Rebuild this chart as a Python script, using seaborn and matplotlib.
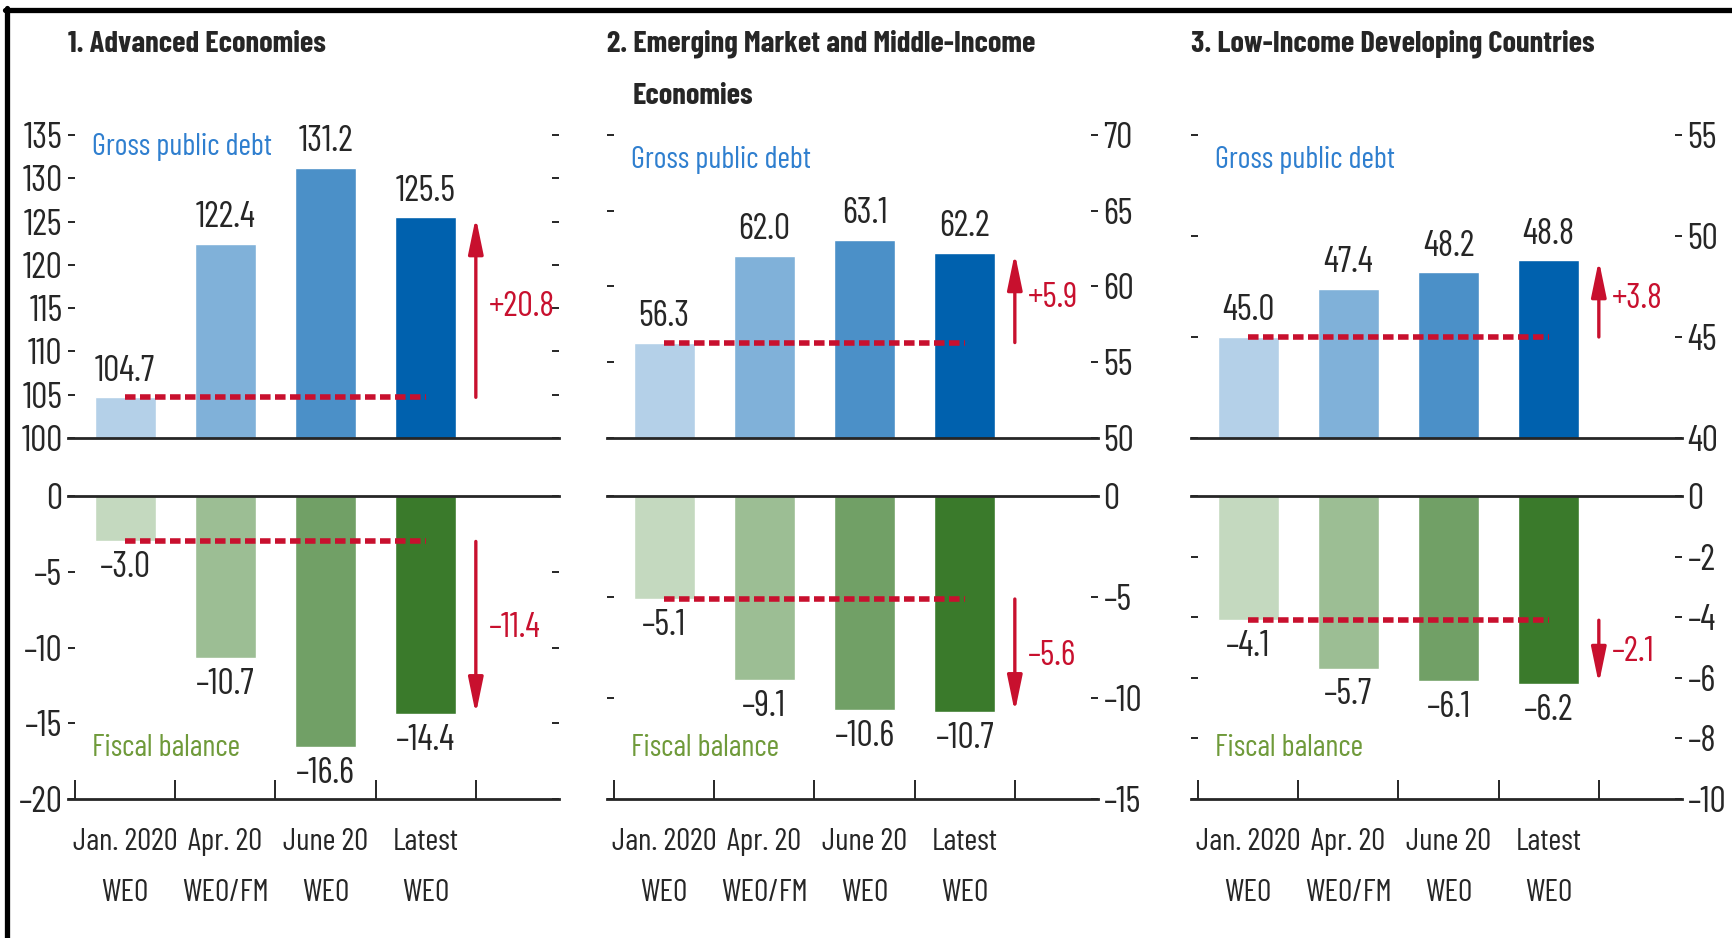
import matplotlib.pyplot as plt
import matplotlib.lines as mlines
import seaborn as sns

# data (percent of GDP)
categories = ["Jan. 2020\nWEO", "Apr. 20\nWEO/FM", "June 20\nWEO", "Latest\nWEO"]
title_lines = [["1. Advanced Economies"],
               ["2. Emerging Market and Middle-Income", "Economies"],
               ["3. Low-Income Developing Countries"]]

debt_adv = [104.7, 122.4, 131.2, 125.5]
debt_em = [56.3, 62.0, 63.1, 62.2]
debt_lic = [45.0, 47.4, 48.2, 48.8]

bal_adv = [-3.0, -10.7, -16.6, -14.4]
bal_em = [-5.1, -9.1, -10.6, -10.7]
bal_lic = [-4.1, -5.7, -6.1, -6.2]

debt_lims = [(100, 135), (50, 70), (40, 55)]
bal_lims = [(-20, 0), (-15, 0), (-10, 0)]
bal_steps = [5, 5, 2]

blues = ["#b4d0e8", "#80b1d9", "#4b90c8", "#0061ae"]
greens = ["#c4d9bf", "#9cbe94", "#71a066", "#3a7a2b"]
RED = "#c8102e"
BLUE_TXT = "#2f7fcf"
GREEN_TXT = "#6f9a3a"

sns.set_style("white")
plt.rcParams['font.family'] = ['Barlow Condensed', 'DejaVu Sans']

W, H = 1733, 938
fig = plt.figure(figsize=(W / 100, H / 100), dpi=100)

lefts = [68, 607, 1191]
ax_w = 491
top_box = (438, 135)     # pixel rows: bottom, top
bot_box = (799, 496)


def dash(s):
    return s.replace("-", "\u2013")


def tick_txt(t):
    return dash(f"{t:g}")


def px_axes(left, box):
    b, t = box
    return [left / W, 1 - b / H, ax_w / W, (b - t) / H]


def change_marks(ax, vals, txt):
    # dashed reference at the first value, arrow to the latest one
    ax.plot([0, 3], [vals[0], vals[0]], color=RED, lw=4.0,
            dashes=(1.9, 0.8), dash_capstyle='butt')
    ax.annotate('', xy=(3.5, vals[-1]), xytext=(3.5, vals[0]),
                arrowprops=dict(arrowstyle='-|>,head_length=1.45,head_width=0.3',
                                color=RED, lw=2.4, shrinkA=0, shrinkB=0,
                                mutation_scale=15))
    ax.text(3.63, (vals[0] + vals[-1]) / 2, txt,
            color=RED, ha='left', va='center', fontsize=25)


debts = [debt_adv, debt_em, debt_lic]
bals = [bal_adv, bal_em, bal_lic]

for i in range(3):
    ax_t = fig.add_axes(px_axes(lefts[i], top_box))
    ax_b = fig.add_axes(px_axes(lefts[i], bot_box))
    debt, bal = debts[i], bals[i]

    sns.barplot(x=categories, y=debt, hue=categories, palette=blues,
                saturation=1, width=0.61, legend=False, ax=ax_t)
    sns.barplot(x=categories, y=bal, hue=categories, palette=greens,
                saturation=1, width=0.61, legend=False, ax=ax_b)

    for ax in (ax_t, ax_b):
        ax.set_xlim(-0.57, 4.33)
        ax.set_xlabel(""); ax.set_ylabel("")
        for s in ("left", "right"):
            ax.spines[s].set_visible(False)
        ax.tick_params(axis='y', which='both', direction='in', length=5,
                       width=1.4, left=True, right=True,
                       labelleft=(i == 0), labelright=(i > 0),
                       labelsize=26, pad=4)

    # upper panel: gross debt
    lo, hi = debt_lims[i]
    ax_t.set_ylim(lo, hi)
    yt = list(range(lo, hi + 1, 5))
    ax_t.set_yticks(yt, [tick_txt(t) for t in yt])
    ax_t.spines["top"].set_visible(False)
    ax_t.spines["bottom"].set_linewidth(2)
    ax_t.set_xticks([])

    for j, v in enumerate(debt):
        ax_t.annotate(f"{v:.1f}", (j, v), xytext=(0, 7), textcoords='offset points',
                      ha='center', va='bottom', fontsize=26)
    change_marks(ax_t, debt, f"+{debt[-1] - debt[0]:.1f}")
    ax_t.text(-0.33, 0.96 if i == 0 else 0.917, "Gross public debt",
              transform=ax_t.get_xaxis_transform(), color=BLUE_TXT,
              ha='left', va='center', fontsize=22)

    # lower panel: fiscal balance
    lo, hi = bal_lims[i]
    ax_b.set_ylim(lo, hi)
    yt = list(range(lo, hi + 1, bal_steps[i]))
    ax_b.set_yticks(yt, [tick_txt(t) for t in yt])
    ax_b.spines["top"].set_linewidth(2)
    ax_b.spines["bottom"].set_linewidth(2)
    ax_b.set_xticks(range(4), categories)
    ax_b.set_xticks([-0.5, 0.5, 1.5, 2.5, 3.5], minor=True)
    ax_b.tick_params(axis='x', which='major', length=0, pad=21, labelsize=22.5)
    ax_b.tick_params(axis='x', which='minor', direction='in', length=13.5,
                     width=1.4, bottom=True)
    for lab in ax_b.get_xticklabels():
        lab.set_linespacing(2.05)

    for j, v in enumerate(bal):
        ax_b.annotate(dash(f"{v:.1f}"), (j, v), xytext=(0, -7), textcoords='offset points',
                      ha='center', va='top', fontsize=26)
    change_marks(ax_b, bal, dash(f"{bal[-1] - bal[0]:.1f}"))
    ax_b.text(-0.33, 0.168, "Fiscal balance",
              transform=ax_b.get_xaxis_transform(), color=GREEN_TXT,
              ha='left', va='center', fontsize=22)

    # panel title
    fig.text(lefts[i] / W, 1 - 44 / H, title_lines[i][0], fontsize=22,
             fontweight='bold', ha='left', va='center')
    if len(title_lines[i]) > 1:
        fig.text((lefts[i] + 26) / W, 1 - 97 / H, title_lines[i][1], fontsize=22,
                 fontweight='bold', ha='left', va='center')

# frame: top and left edges only
fig.add_artist(mlines.Line2D([5 / W, 1], [1 - 10.5 / H, 1 - 10.5 / H],
                             color='black', lw=3.8, transform=fig.transFigure))
fig.add_artist(mlines.Line2D([7.5 / W, 7.5 / W], [0, 1 - 8 / H],
                             color='black', lw=3.8, transform=fig.transFigure))

fig.savefig("out.png", dpi=100)
